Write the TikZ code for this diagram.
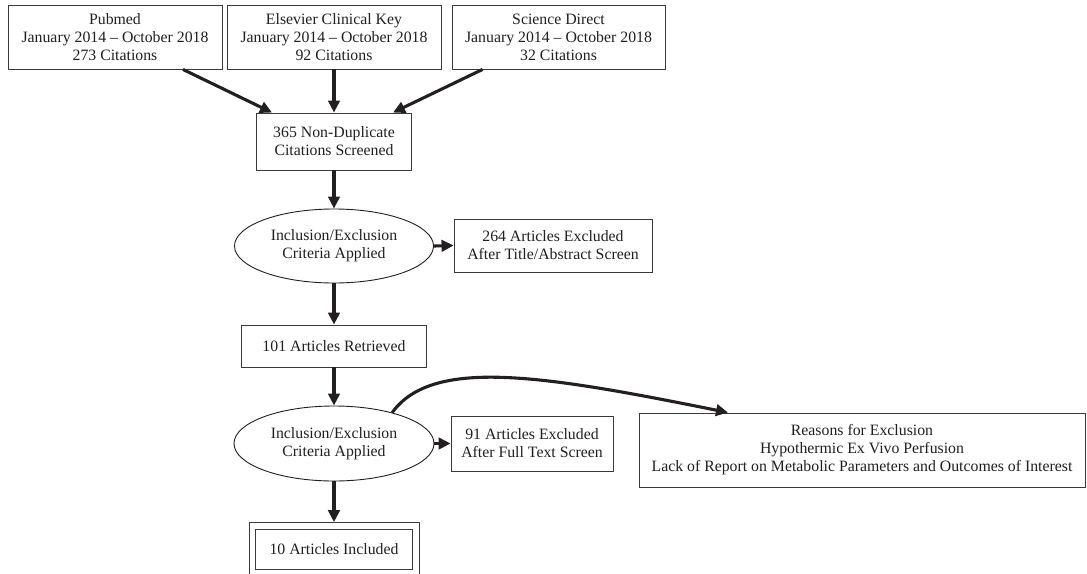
\documentclass[tikz,border=0pt]{standalone}
\usepackage{fontspec}
\setmainfont{Liberation Serif}
\usetikzlibrary{arrows.meta,shapes.geometric,fit}
\definecolor{ink}{HTML}{231F20}
\definecolor{edge}{HTML}{3A3A3A}
\tikzset{
  txt/.style={font=\fontsize{15.8}{18}\selectfont, align=center, text=ink},
  box/.style={txt, draw=edge, line width=0.9pt, rectangle, inner sep=0pt},
  oval/.style={txt, draw=ink, line width=0.9pt, ellipse, inner sep=0pt},
  arr/.style={draw=ink, line width=3.1pt, -{Triangle[length=12pt,width=11.5pt]}},
}
\begin{document}
\begin{tikzpicture}[x=1pt,y=-1pt]
\useasboundingbox (0,0) rectangle (1087,573);
\clip (0,0) rectangle (1087,573);
\fill[white] (0,0) rectangle (1087,573);

\node[box, minimum width=214pt, minimum height=64pt] (pm) at (115,37) {Pubmed\\January 2014 – October 2018\\273 Citations};
\node[box, minimum width=214pt, minimum height=64pt] (el) at (334,37) {Elsevier Clinical Key\\January 2014 – October 2018\\92 Citations};
\node[box, minimum width=213pt, minimum height=64pt] (sd) at (558.5,37) {Science Direct\\January 2014 – October 2018\\32 Citations};

\node[box, minimum width=155pt, minimum height=57pt] (nd) at (334,141.5) {365 Non-Duplicate\\Citations Screened};
\node[oval, minimum width=199pt, minimum height=74pt] (e1) at (334,246) {Inclusion/Exclusion\\Criteria Applied};
\node[box, minimum width=198pt, minimum height=53pt] (x1) at (553,245.5) {264 Articles Excluded\\After Title/Abstract Screen};
\node[box, minimum width=185pt, minimum height=42pt] (rt) at (334,346) {101 Articles Retrieved};
\node[oval, minimum width=200pt, minimum height=75pt] (e2) at (334,443.5) {Inclusion/Exclusion\\Criteria Applied};
\node[box, minimum width=162pt, minimum height=55pt] (x2) at (532,443.5) {91 Articles Excluded\\After Full Text Screen};
\node[box, minimum width=446pt, minimum height=74pt] (rs) at (862,450) {Reasons for Exclusion\\Hypothermic Ex Vivo Perfusion\\Lack of Report on Metabolic Parameters and Outcomes of Interest};
\node[box, minimum width=157pt, minimum height=40pt] (inc) at (334,549) {10 Articles Included};
\node[draw=edge, line width=0.9pt, inner sep=6pt, fit=(inc)] (incout) {};

\draw[arr] ([xshift=68pt]pm.south) -- ([xshift=-62pt]nd.north);
\draw[arr] (el.south) -- (nd.north);
\draw[arr] ([xshift=-76pt]sd.south) -- ([xshift=59pt]nd.north);
\draw[arr] (nd.south) -- (e1.north);
\draw[arr] (e1.east) -- (x1.west);
\draw[arr] (e1.south) -- (rt.north);
\draw[arr] (rt.south) -- (e2.north);
\draw[arr] (e2.east) -- (x2.west);
\draw[arr] (e2.south) -- (incout.north);
\draw[arr] (e2.28) .. controls +(40,-55) and +(-188,-38) .. ([xshift=-134pt]rs.north);
\end{tikzpicture}
\end{document}
